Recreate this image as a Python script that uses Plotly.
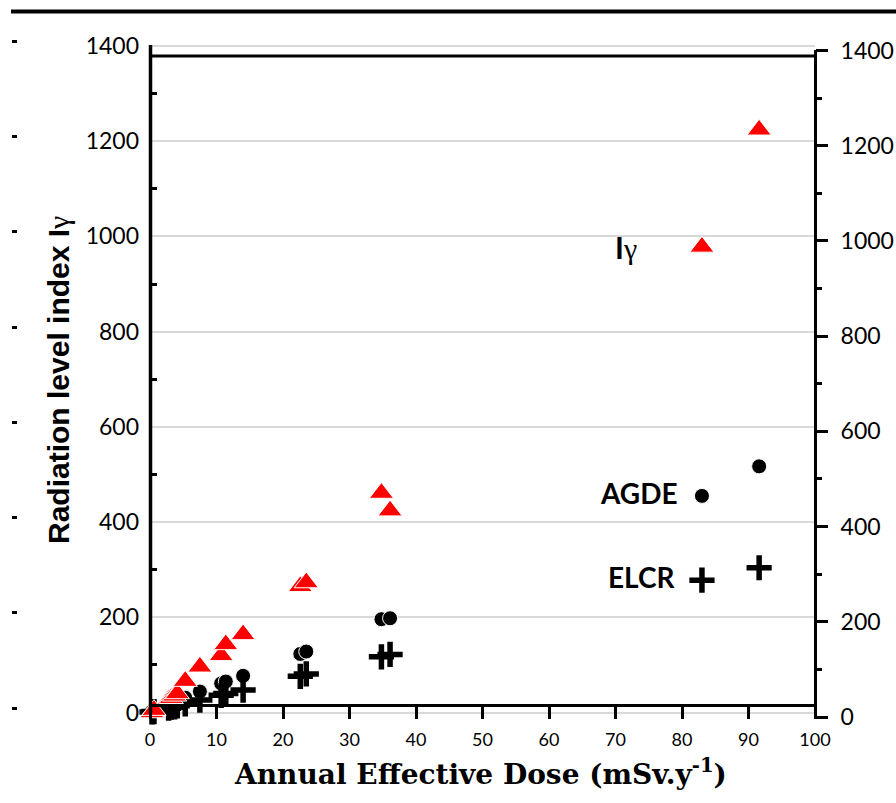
import plotly.graph_objects as go

# ---------------- data ----------------
dose = [0.3, 0.6, 2.8, 3.2, 3.7, 4.1, 5.3, 7.5, 10.7, 11.4, 14.0,
        22.6, 23.5, 34.8, 36.1, 83.0, 91.6]
i_gamma = [0, 5, 26, 30, 35, 40, 66, 96, 120, 143, 164,
           265, 273, 461, 424, 978, 1224]
agde = [2, 3, 15, 17, 20, 23, 31, 44, 61, 65, 77,
        123, 128, 196, 198, 455, 517]
elcr = [1, 2, 9, 11, 12, 14, 18, 26, 36, 40, 47,
        76, 81, 117, 122, 278, 304]

x_ticks = list(range(0, 101, 10))
y_ticks = list(range(0, 1401, 200))
y_minor = list(range(100, 1400, 200))

# ---------------- geometry helpers ----------------
W, H = 896, 803
PX_L, PX_R, PX_T, PX_B = 11, 815, 40, 720
K = (712.5 - 46) / 1400.0   # px per unit on left axis


def pxx(px):
    return (px - PX_L) / (PX_R - PX_L)


def pxy(py):
    return (PX_B - py) / (PX_B - PX_T)


def yrange(zero_px):
    return [(zero_px - PX_B) / K, (zero_px - PX_T) / K]


fig = go.Figure()

fig.add_trace(go.Scatter(
    x=dose, y=agde, mode="markers", name="AGDE", cliponaxis=False,
    marker=dict(symbol="circle", size=15, color="black",
                line=dict(color="white", width=1))))
fig.add_trace(go.Scatter(
    x=dose, y=elcr, mode="markers", name="ELCR", cliponaxis=False,
    marker=dict(symbol="cross-thin", size=18,
                line=dict(color="black", width=5.5))))
fig.add_trace(go.Scatter(
    x=dose, y=i_gamma, mode="markers", name="Iγ", cliponaxis=False,
    marker=dict(symbol="triangle-up", size=21, color="#FF0000",
                line=dict(color="white", width=1))))
# empty traces so the extra axes are created
fig.add_trace(go.Scatter(x=[None], y=[None], yaxis="y2", showlegend=False,
                         hoverinfo="skip"))
fig.add_trace(go.Scatter(x=[None], y=[None], yaxis="y3", showlegend=False,
                         hoverinfo="skip"))

tick_font = dict(family="Lato", size=23, color="black")

fig.update_layout(
    width=W, height=H,
    margin=dict(l=PX_L, r=W - PX_R, t=PX_T, b=H - PX_B, pad=0,
                autoexpand=False),
    paper_bgcolor="white", plot_bgcolor="white",
    showlegend=False,
    xaxis=dict(
        domain=[pxx(150), 1], range=[0, 100], anchor="free",
        position=pxy(705.3), automargin=False,
        tickmode="array", tickvals=x_ticks,
        ticks="outside", ticklen=12, tickwidth=3, tickcolor="black",
        showline=True, linewidth=3, linecolor="black",
        showgrid=False, zeroline=False,
        tickfont=dict(family="Lato", size=18, color="black"),
        ticklabelstandoff=5,
    ),
    yaxis=dict(
        domain=[0, 1], range=yrange(712.5), anchor="x", automargin=False,
        tickmode="array", tickvals=y_ticks,
        ticks="", showline=False, zeroline=False,
        showgrid=True, gridcolor="#d9d9d9", gridwidth=1.5,
        tickfont=tick_font, ticklabelstandoff=10,
        minor=dict(tickmode="array", tickvals=y_minor, ticks="inside",
                   ticklen=7, tickwidth=3, tickcolor="black",
                   showgrid=False),
    ),
    yaxis2=dict(
        overlaying="y", side="right", anchor="x", range=yrange(717),
        automargin=False,
        tickmode="array", tickvals=y_ticks,
        ticks="outside", ticklen=12, tickwidth=2.5, tickcolor="black",
        showline=False, zeroline=False, showgrid=False,
        tickfont=tick_font, ticklabelstandoff=8,
        minor=dict(tickmode="array", tickvals=y_minor, ticks="outside",
                   ticklen=6, tickwidth=2.5, tickcolor="black",
                   showgrid=False),
    ),
    yaxis3=dict(
        overlaying="y", side="left", anchor="free", position=0,
        range=yrange(708), automargin=False,
        tickmode="array", tickvals=y_ticks, showticklabels=False,
        ticks="inside", ticklen=5, tickwidth=2.5, tickcolor="black",
        showline=False, zeroline=False, showgrid=False,
    ),
)

# frame lines
fig.add_shape(type="line", xref="paper", yref="paper",
              x0=pxx(11), x1=pxx(896), y0=pxy(11.5), y1=pxy(11.5),
              line=dict(color="black", width=4))
fig.add_shape(type="line", xref="paper", yref="paper",
              x0=pxx(150), x1=pxx(815), y0=pxy(56), y1=pxy(56),
              line=dict(color="black", width=3))
fig.add_shape(type="line", xref="paper", yref="paper",
              x0=pxx(150.5), x1=pxx(150.5), y0=pxy(45), y1=pxy(713),
              line=dict(color="black", width=3.5))
fig.add_shape(type="line", xref="paper", yref="paper",
              x0=pxx(815.5), x1=pxx(815.5), y0=pxy(50), y1=pxy(717),
              line=dict(color="black", width=3))

# labels inside the plot
fig.add_annotation(x=71.6, y=978, xref="x", yref="y", showarrow=False,
                   text="<b>I</b><span style='font-family:Liberation Serif'>γ</span>",
                   font=dict(family="Lato", size=30, color="black"))
fig.add_annotation(x=73.5, y=461, xref="x", yref="y", showarrow=False,
                   text="<b>AGDE</b>",
                   font=dict(family="Lato", size=28, color="black"))
fig.add_annotation(x=73.9, y=285, xref="x", yref="y", showarrow=False,
                   text="<b>ELCR</b>",
                   font=dict(family="Lato", size=28, color="black"))

# axis titles
fig.add_annotation(x=pxx(481), y=pxy(772), xref="paper", yref="paper",
                   xanchor="center", yanchor="middle", showarrow=False,
                   text="<b>Annual Effective Dose (mSv.y<sup>-1</sup>)</b>",
                   font=dict(family="DejaVu Serif", size=28, color="black"))
fig.add_annotation(x=pxx(58), y=pxy(546), xref="paper", yref="paper",
                   xanchor="center", yanchor="bottom", showarrow=False,
                   textangle=-90,
                   text="<b>Radiation level index I</b><span style='font-family:Liberation Serif'>γ</span>",
                   font=dict(family="Liberation Sans", size=30, color="black"))

fig.write_html("out.html")
